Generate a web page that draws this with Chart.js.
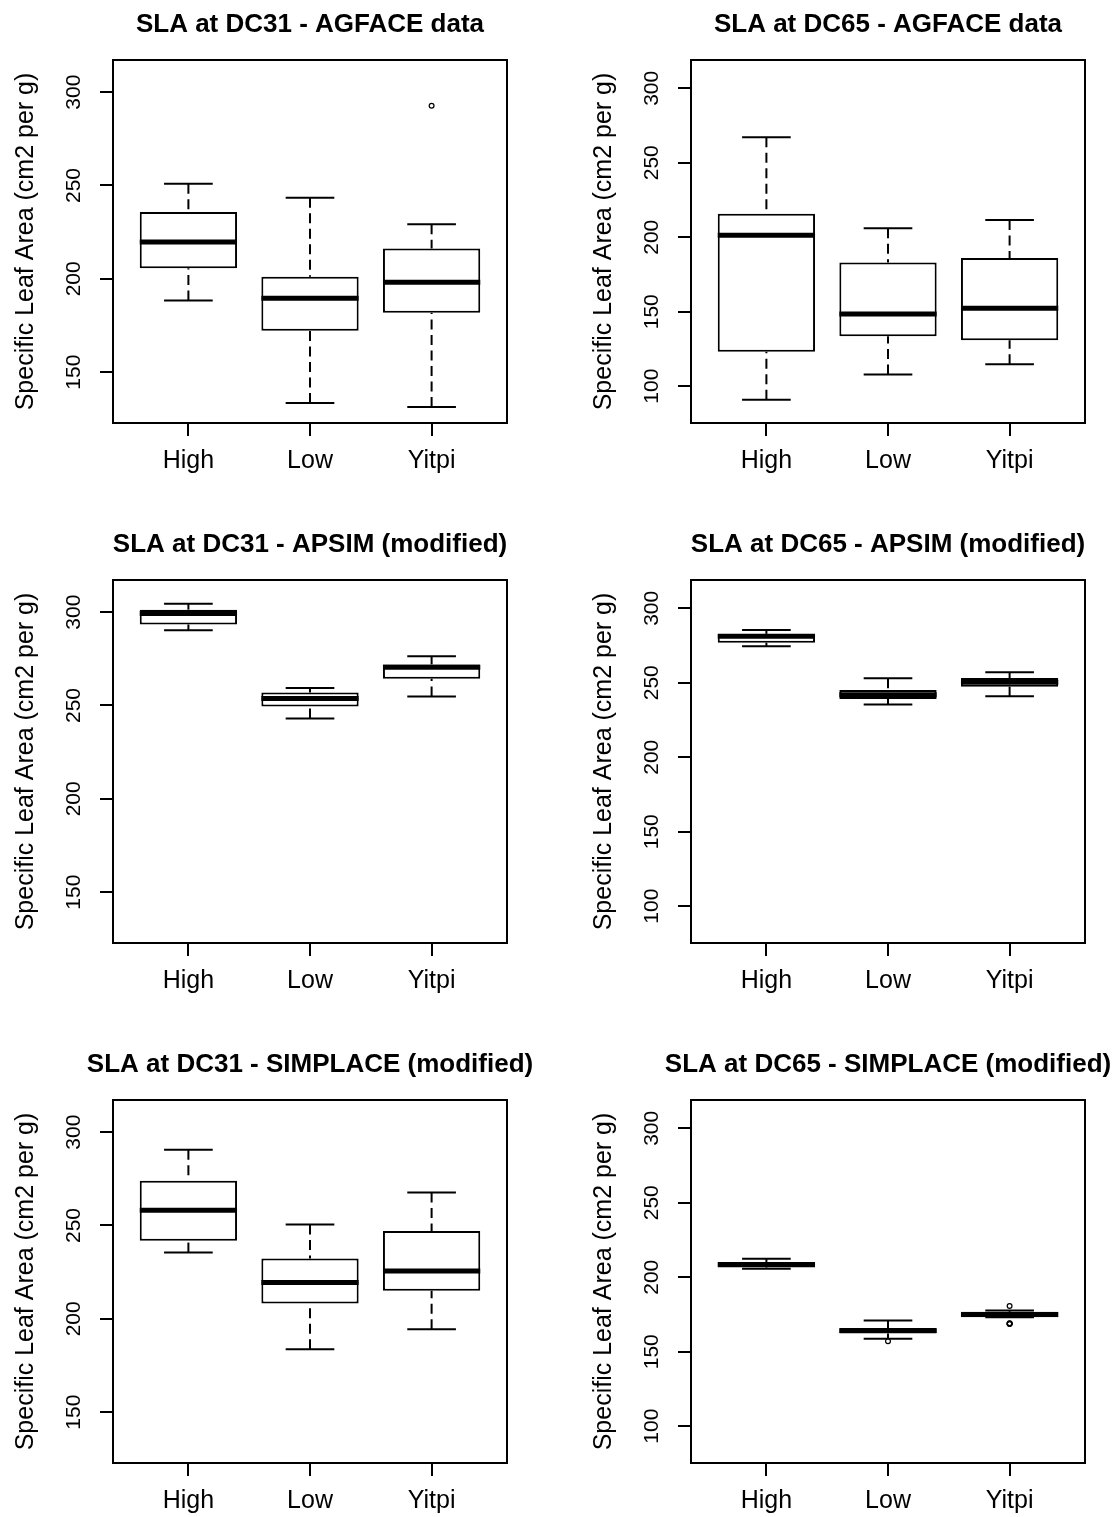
<!DOCTYPE html>
<html>
<head>
<meta charset="utf-8">
<script src="https://cdn.jsdelivr.net/npm/chart.js@4.4.1/dist/chart.umd.min.js"></script>
<style>
  html, body { margin: 0; padding: 0; background: #fff; overflow: hidden; }
  #wrap { position: relative; width: 1117px; height: 1517px; }
  #wrap canvas { position: absolute; }
</style>
</head>
<body>
<div id="wrap"></div>
<script>
const groups = ["High", "Low", "Yitpi"]
const yTitle = "Specific Leaf Area (cm2 per g)"

const dc31Ticks = [150, 200, 250, 300]
const dc65Ticks = [100, 150, 200, 250, 300]
const dc31Range = [122.8, 317.2]
const dc65Range = [75.3, 319.0]

// per group: [lower whisker, Q1, median, Q3, upper whisker]
const agface31Stats = [
    [188.4, 205.7, 219.7, 235.8, 250.9],
    [133.5, 172.2, 189.6, 201.1, 243.4],
    [131.4, 181.9, 198.2, 216.3, 229.2],
]
const agface31Out = [[], [], [292.7]]

const agface65Stats = [
    [90.9, 123.1, 201.3, 215.8, 267.1],
    [107.9, 133.6, 148.4, 183.1, 206.0],
    [114.8, 130.9, 152.4, 186.0, 211.6],
]
const agface65Out = [[], [], []]

const apsim31Stats = [
    [290.3, 293.4, 299.3, 301.3, 304.5],
    [243.0, 249.5, 253.8, 257.0, 259.3],
    [254.8, 264.3, 270.5, 272.0, 276.3],
]
const apsim31Out = [[], [], []]

const apsim65Stats = [
    [274.5, 276.9, 281.2, 282.8, 285.4],
    [235.5, 239.1, 242.0, 245.1, 253.0],
    [240.9, 247.4, 250.3, 253.2, 257.0],
]
const apsim65Out = [[], [], []]

const simplace31Stats = [
    [235.5, 241.8, 258.1, 274.0, 290.5],
    [183.7, 208.2, 219.4, 232.3, 250.5],
    [194.4, 215.1, 225.6, 247.1, 267.7],
]
const simplace31Out = [[], [], []]

const simplace65Stats = [
    [205.7, 206.6, 208.5, 209.9, 212.4],
    [158.7, 162.3, 164.3, 165.6, 171.0],
    [173.1, 173.1, 175.0, 176.8, 177.6],
]
const simplace65Out = [[], [157.1], [180.7, 169.0, 168.8, 169.2, 168.6]]

const panels = [
    { title: "SLA at DC31 - AGFACE data", stats: agface31Stats, out: agface31Out, col: 0, row: 0 },
    { title: "SLA at DC65 - AGFACE data", stats: agface65Stats, out: agface65Out, col: 1, row: 0 },
    { title: "SLA at DC31 - APSIM (modified)", stats: apsim31Stats, out: apsim31Out, col: 0, row: 1 },
    { title: "SLA at DC65 - APSIM (modified)", stats: apsim65Stats, out: apsim65Out, col: 1, row: 1 },
    { title: "SLA at DC31 - SIMPLACE (modified)", stats: simplace31Stats, out: simplace31Out, col: 0, row: 2 },
    { title: "SLA at DC65 - SIMPLACE (modified)", stats: simplace65Stats, out: simplace65Out, col: 1, row: 2 },
]

const FONT = "'Liberation Sans', Arial, sans-serif"

;(function() {
    const wrap = document.getElementById("wrap")

    // draws whiskers, medians, frame and the R-style texts
    function boxPlugin(p) {
        return {
            id: "rbox",
            afterDatasetsDraw(chart) {
                const { ctx, scales: { x, y } } = chart
                const py = v => y.getPixelForValue(v)
                const seg = (x0, y0, x1, y1) => {
                    ctx.beginPath()
                    ctx.moveTo(x0, y0)
                    ctx.lineTo(x1, y1)
                    ctx.stroke()
                }
                ctx.save()
                ctx.strokeStyle = "#000"
                ctx.lineCap = "butt"
                p.stats.forEach((s, i) => {
                    const [lo, q1, med, q3, hi] = s
                    const cx = x.getPixelForValue(i + 1)
                    const capL = x.getPixelForValue(i + 0.8), capR = x.getPixelForValue(i + 1.2)
                    const boxL = x.getPixelForValue(i + 0.6), boxR = x.getPixelForValue(i + 1.4)
                    ctx.lineWidth = 2
                    ctx.setLineDash([10, 5.5])
                    seg(cx, py(lo), cx, py(q1))
                    seg(cx, py(hi), cx, py(q3))
                    ctx.setLineDash([])
                    seg(capL, py(lo), capR, py(lo))
                    seg(capL, py(hi), capR, py(hi))
                    ctx.lineWidth = 5
                    seg(boxL, py(med), boxR, py(med))
                })
                ctx.restore()
            },
            afterDraw(chart) {
                const { ctx, chartArea: a, scales: { y } } = chart
                ctx.save()
                ctx.strokeStyle = "#000"
                ctx.lineWidth = 2
                ctx.strokeRect(a.left, a.top, a.right - a.left, a.bottom - a.top)

                ctx.fillStyle = "#000"
                ctx.textAlign = "center"
                ctx.textBaseline = "alphabetic"
                ctx.font = "bold 26px " + FONT
                ctx.fillText(p.title, (a.left + a.right) / 2, 32)

                const midY = (a.top + a.bottom) / 2
                ctx.translate(a.left - 80, midY)
                ctx.rotate(-Math.PI / 2)
                ctx.font = "25px " + FONT
                ctx.fillText(yTitle, 0, 0)
                ctx.restore()

                ctx.save()
                ctx.fillStyle = "#000"
                ctx.textAlign = "center"
                ctx.font = "21px " + FONT
                for (const t of y.ticks) {
                    ctx.save()
                    ctx.translate(a.left - 33, y.getPixelForValue(t.value))
                    ctx.rotate(-Math.PI / 2)
                    ctx.fillText(String(t.value), 0, 0)
                    ctx.restore()
                }
                ctx.restore()
            }
        }
    }

    for (const p of panels) {
        const isLeft = p.col == 0
        const w = isLeft ? 558 : 559
        const h = p.row < 2 ? 520 : 477
        const axisW = isLeft ? 113 : 133
        const padRight = isLeft ? 51 : 32
        const axisH = 50

        const canvas = document.createElement("canvas")
        canvas.width = w
        canvas.height = h
        canvas.style.left = (isLeft ? 0 : 558) + "px"
        canvas.style.top = (p.row * 520) + "px"
        canvas.style.width = w + "px"
        canvas.style.height = h + "px"
        wrap.appendChild(canvas)

        const range = isLeft ? dc31Range : dc65Range
        const yTicks = isLeft ? dc31Ticks : dc65Ticks

        const boxes = p.stats.map((s, i) => ({ x: i + 1, y: [s[1], s[3]] }))
        let outliers = []
        p.out.forEach((vals, i) => {
            for (const v of vals) outliers.push({ x: i + 1, y: v })
        })

        new Chart(canvas.getContext("2d"), {
            type: "bar",
            data: {
                datasets: [
                    {
                        type: "bar",
                        data: boxes,
                        backgroundColor: "#fff",
                        borderColor: "#000",
                        borderWidth: 2,
                        borderSkipped: false,
                        barPercentage: 0.8,
                        categoryPercentage: 1.0,
                    },
                    {
                        type: "scatter",
                        data: outliers,
                        pointStyle: "circle",
                        pointRadius: 2.4,
                        pointBorderWidth: 1.2,
                        pointBorderColor: "#000",
                        pointBackgroundColor: "rgba(0,0,0,0)",
                    }
                ]
            },
            options: {
                responsive: false,
                animation: false,
                events: [],
                devicePixelRatio: 1,
                layout: {
                    padding: { top: 60, left: 0, right: padRight, bottom: h - 423 - axisH }
                },
                plugins: {
                    legend: { display: false },
                    title: { display: false },
                    tooltip: { enabled: false }
                },
                scales: {
                    x: {
                        type: "linear",
                        min: 0.38,
                        max: 3.62,
                        offset: false,
                        afterBuildTicks: axis => { axis.ticks = [1, 2, 3].map(v => ({ value: v })) },
                        afterFit: axis => { axis.height = axisH },
                        ticks: {
                            autoSkip: false,
                            maxRotation: 0,
                            minRotation: 0,
                            padding: 10,
                            color: "#000",
                            font: { family: FONT, size: 25 },
                            callback: (v, i) => groups[i]
                        },
                        grid: {
                            offset: false,
                            drawOnChartArea: false,
                            drawTicks: true,
                            tickLength: 13,
                            color: "#000",
                            lineWidth: 2
                        },
                        border: { display: false }
                    },
                    y: {
                        type: "linear",
                        min: range[0],
                        max: range[1],
                        afterBuildTicks: axis => { axis.ticks = yTicks.map(v => ({ value: v })) },
                        afterFit: axis => { axis.width = axisW },
                        ticks: { display: false },
                        grid: {
                            drawOnChartArea: false,
                            drawTicks: true,
                            tickLength: 13,
                            color: "#000",
                            lineWidth: 2
                        },
                        border: { display: false }
                    }
                }
            },
            plugins: [boxPlugin(p)]
        })
    }
})()
</script>
</body>
</html>
